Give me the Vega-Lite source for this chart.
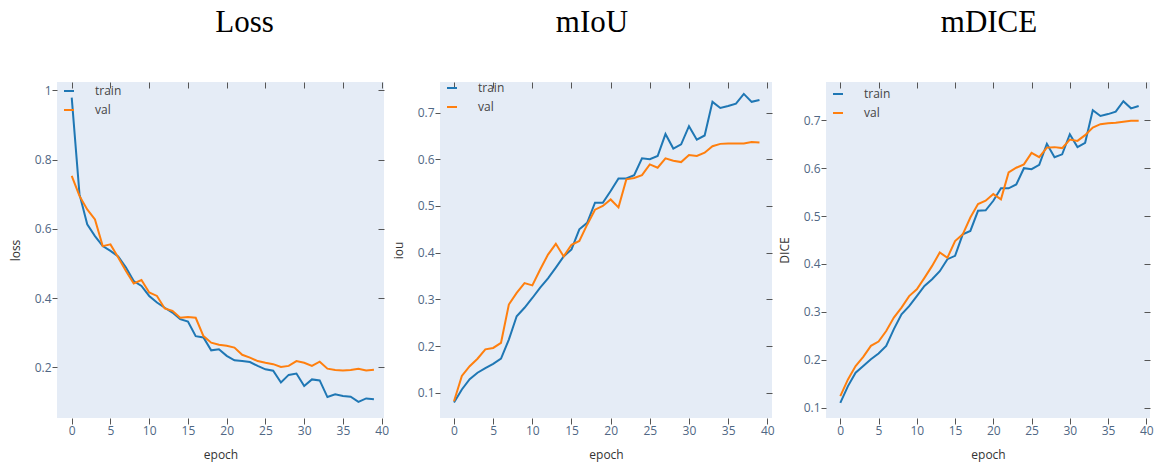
{
 "$schema": "https://vega.github.io/schema/vega-lite/v6.json",
 "padding": {"left": 9, "top": 6, "right": 2, "bottom": 5},
 "spacing": 3,
 "background": "white",
 "datasets": {
  "loss": [
   {"epoch":0,"series":"train","value":0.979},{"epoch":1,"series":"train","value":0.700},{"epoch":2,"series":"train","value":0.613},{"epoch":3,"series":"train","value":0.579},{"epoch":4,"series":"train","value":0.550},{"epoch":5,"series":"train","value":0.536},{"epoch":6,"series":"train","value":0.520},{"epoch":7,"series":"train","value":0.488},{"epoch":8,"series":"train","value":0.449},{"epoch":9,"series":"train","value":0.435},
   {"epoch":10,"series":"train","value":0.406},{"epoch":11,"series":"train","value":0.387},{"epoch":12,"series":"train","value":0.372},{"epoch":13,"series":"train","value":0.358},{"epoch":14,"series":"train","value":0.339},{"epoch":15,"series":"train","value":0.332},{"epoch":16,"series":"train","value":0.290},{"epoch":17,"series":"train","value":0.286},{"epoch":18,"series":"train","value":0.249},{"epoch":19,"series":"train","value":0.252},
   {"epoch":20,"series":"train","value":0.233},{"epoch":21,"series":"train","value":0.220},{"epoch":22,"series":"train","value":0.218},{"epoch":23,"series":"train","value":0.215},{"epoch":24,"series":"train","value":0.204},{"epoch":25,"series":"train","value":0.194},{"epoch":26,"series":"train","value":0.190},{"epoch":27,"series":"train","value":0.156},{"epoch":28,"series":"train","value":0.178},{"epoch":29,"series":"train","value":0.182},
   {"epoch":30,"series":"train","value":0.146},{"epoch":31,"series":"train","value":0.165},{"epoch":32,"series":"train","value":0.162},{"epoch":33,"series":"train","value":0.114},{"epoch":34,"series":"train","value":0.122},{"epoch":35,"series":"train","value":0.117},{"epoch":36,"series":"train","value":0.115},{"epoch":37,"series":"train","value":0.100},{"epoch":38,"series":"train","value":0.110},{"epoch":39,"series":"train","value":0.108},
   {"epoch":0,"series":"val","value":0.753},{"epoch":1,"series":"val","value":0.695},{"epoch":2,"series":"val","value":0.656},{"epoch":3,"series":"val","value":0.627},{"epoch":4,"series":"val","value":0.550},{"epoch":5,"series":"val","value":0.555},{"epoch":6,"series":"val","value":0.517},{"epoch":7,"series":"val","value":0.478},{"epoch":8,"series":"val","value":0.442},{"epoch":9,"series":"val","value":0.452},
   {"epoch":10,"series":"val","value":0.416},{"epoch":11,"series":"val","value":0.406},{"epoch":12,"series":"val","value":0.370},{"epoch":13,"series":"val","value":0.363},{"epoch":14,"series":"val","value":0.343},{"epoch":15,"series":"val","value":0.345},{"epoch":16,"series":"val","value":0.343},{"epoch":17,"series":"val","value":0.290},{"epoch":18,"series":"val","value":0.271},{"epoch":19,"series":"val","value":0.265},
   {"epoch":20,"series":"val","value":0.262},{"epoch":21,"series":"val","value":0.257},{"epoch":22,"series":"val","value":0.236},{"epoch":23,"series":"val","value":0.228},{"epoch":24,"series":"val","value":0.218},{"epoch":25,"series":"val","value":0.213},{"epoch":26,"series":"val","value":0.209},{"epoch":27,"series":"val","value":0.201},{"epoch":28,"series":"val","value":0.204},{"epoch":29,"series":"val","value":0.218},
   {"epoch":30,"series":"val","value":0.213},{"epoch":31,"series":"val","value":0.204},{"epoch":32,"series":"val","value":0.216},{"epoch":33,"series":"val","value":0.196},{"epoch":34,"series":"val","value":0.192},{"epoch":35,"series":"val","value":0.191},{"epoch":36,"series":"val","value":0.192},{"epoch":37,"series":"val","value":0.196},{"epoch":38,"series":"val","value":0.191},{"epoch":39,"series":"val","value":0.193}
  ],
  "iou": [
   {"epoch":0,"series":"train","value":0.079},{"epoch":1,"series":"train","value":0.107},{"epoch":2,"series":"train","value":0.129},{"epoch":3,"series":"train","value":0.143},{"epoch":4,"series":"train","value":0.153},{"epoch":5,"series":"train","value":0.162},{"epoch":6,"series":"train","value":0.173},{"epoch":7,"series":"train","value":0.214},{"epoch":8,"series":"train","value":0.264},{"epoch":9,"series":"train","value":0.282},
   {"epoch":10,"series":"train","value":0.303},{"epoch":11,"series":"train","value":0.325},{"epoch":12,"series":"train","value":0.345},{"epoch":13,"series":"train","value":0.368},{"epoch":14,"series":"train","value":0.392},{"epoch":15,"series":"train","value":0.407},{"epoch":16,"series":"train","value":0.450},{"epoch":17,"series":"train","value":0.464},{"epoch":18,"series":"train","value":0.507},{"epoch":19,"series":"train","value":0.507},
   {"epoch":20,"series":"train","value":0.532},{"epoch":21,"series":"train","value":0.559},{"epoch":22,"series":"train","value":0.559},{"epoch":23,"series":"train","value":0.566},{"epoch":24,"series":"train","value":0.602},{"epoch":25,"series":"train","value":0.600},{"epoch":26,"series":"train","value":0.607},{"epoch":27,"series":"train","value":0.654},{"epoch":28,"series":"train","value":0.623},{"epoch":29,"series":"train","value":0.632},
   {"epoch":30,"series":"train","value":0.671},{"epoch":31,"series":"train","value":0.642},{"epoch":32,"series":"train","value":0.651},{"epoch":33,"series":"train","value":0.723},{"epoch":34,"series":"train","value":0.710},{"epoch":35,"series":"train","value":0.714},{"epoch":36,"series":"train","value":0.719},{"epoch":37,"series":"train","value":0.740},{"epoch":38,"series":"train","value":0.723},{"epoch":39,"series":"train","value":0.727},
   {"epoch":0,"series":"val","value":0.082},{"epoch":1,"series":"val","value":0.136},{"epoch":2,"series":"val","value":0.157},{"epoch":3,"series":"val","value":0.173},{"epoch":4,"series":"val","value":0.193},{"epoch":5,"series":"val","value":0.196},{"epoch":6,"series":"val","value":0.207},{"epoch":7,"series":"val","value":0.289},{"epoch":8,"series":"val","value":0.314},{"epoch":9,"series":"val","value":0.335},
   {"epoch":10,"series":"val","value":0.330},{"epoch":11,"series":"val","value":0.364},{"epoch":12,"series":"val","value":0.396},{"epoch":13,"series":"val","value":0.419},{"epoch":14,"series":"val","value":0.392},{"epoch":15,"series":"val","value":0.417},{"epoch":16,"series":"val","value":0.425},{"epoch":17,"series":"val","value":0.460},{"epoch":18,"series":"val","value":0.492},{"epoch":19,"series":"val","value":0.500},
   {"epoch":20,"series":"val","value":0.514},{"epoch":21,"series":"val","value":0.497},{"epoch":22,"series":"val","value":0.557},{"epoch":23,"series":"val","value":0.560},{"epoch":24,"series":"val","value":0.566},{"epoch":25,"series":"val","value":0.589},{"epoch":26,"series":"val","value":0.582},{"epoch":27,"series":"val","value":0.602},{"epoch":28,"series":"val","value":0.597},{"epoch":29,"series":"val","value":0.594},
   {"epoch":30,"series":"val","value":0.609},{"epoch":31,"series":"val","value":0.607},{"epoch":32,"series":"val","value":0.614},{"epoch":33,"series":"val","value":0.628},{"epoch":34,"series":"val","value":0.633},{"epoch":35,"series":"val","value":0.634},{"epoch":36,"series":"val","value":0.634},{"epoch":37,"series":"val","value":0.634},{"epoch":38,"series":"val","value":0.637},{"epoch":39,"series":"val","value":0.636}
  ],
  "dice": [
   {"epoch":0,"series":"train","value":0.110},{"epoch":1,"series":"train","value":0.145},{"epoch":2,"series":"train","value":0.173},{"epoch":3,"series":"train","value":0.187},{"epoch":4,"series":"train","value":0.201},{"epoch":5,"series":"train","value":0.213},{"epoch":6,"series":"train","value":0.229},{"epoch":7,"series":"train","value":0.264},{"epoch":8,"series":"train","value":0.295},{"epoch":9,"series":"train","value":0.312},
   {"epoch":10,"series":"train","value":0.333},{"epoch":11,"series":"train","value":0.354},{"epoch":12,"series":"train","value":0.368},{"epoch":13,"series":"train","value":0.385},{"epoch":14,"series":"train","value":0.410},{"epoch":15,"series":"train","value":0.417},{"epoch":16,"series":"train","value":0.462},{"epoch":17,"series":"train","value":0.469},{"epoch":18,"series":"train","value":0.511},{"epoch":19,"series":"train","value":0.512},
   {"epoch":20,"series":"train","value":0.532},{"epoch":21,"series":"train","value":0.558},{"epoch":22,"series":"train","value":0.558},{"epoch":23,"series":"train","value":0.566},{"epoch":24,"series":"train","value":0.600},{"epoch":25,"series":"train","value":0.598},{"epoch":26,"series":"train","value":0.607},{"epoch":27,"series":"train","value":0.651},{"epoch":28,"series":"train","value":0.623},{"epoch":29,"series":"train","value":0.629},
   {"epoch":30,"series":"train","value":0.671},{"epoch":31,"series":"train","value":0.644},{"epoch":32,"series":"train","value":0.653},{"epoch":33,"series":"train","value":0.721},{"epoch":34,"series":"train","value":0.709},{"epoch":35,"series":"train","value":0.713},{"epoch":36,"series":"train","value":0.718},{"epoch":37,"series":"train","value":0.740},{"epoch":38,"series":"train","value":0.725},{"epoch":39,"series":"train","value":0.730},
   {"epoch":0,"series":"val","value":0.124},{"epoch":1,"series":"val","value":0.159},{"epoch":2,"series":"val","value":0.187},{"epoch":3,"series":"val","value":0.206},{"epoch":4,"series":"val","value":0.229},{"epoch":5,"series":"val","value":0.238},{"epoch":6,"series":"val","value":0.260},{"epoch":7,"series":"val","value":0.288},{"epoch":8,"series":"val","value":0.309},{"epoch":9,"series":"val","value":0.333},
   {"epoch":10,"series":"val","value":0.347},{"epoch":11,"series":"val","value":0.371},{"epoch":12,"series":"val","value":0.396},{"epoch":13,"series":"val","value":0.424},{"epoch":14,"series":"val","value":0.413},{"epoch":15,"series":"val","value":0.448},{"epoch":16,"series":"val","value":0.462},{"epoch":17,"series":"val","value":0.497},{"epoch":18,"series":"val","value":0.525},{"epoch":19,"series":"val","value":0.532},
   {"epoch":20,"series":"val","value":0.546},{"epoch":21,"series":"val","value":0.535},{"epoch":22,"series":"val","value":0.591},{"epoch":23,"series":"val","value":0.601},{"epoch":24,"series":"val","value":0.608},{"epoch":25,"series":"val","value":0.632},{"epoch":26,"series":"val","value":0.623},{"epoch":27,"series":"val","value":0.643},{"epoch":28,"series":"val","value":0.644},{"epoch":29,"series":"val","value":0.642},
   {"epoch":30,"series":"val","value":0.660},{"epoch":31,"series":"val","value":0.657},{"epoch":32,"series":"val","value":0.669},{"epoch":33,"series":"val","value":0.685},{"epoch":34,"series":"val","value":0.692},{"epoch":35,"series":"val","value":0.694},{"epoch":36,"series":"val","value":0.695},{"epoch":37,"series":"val","value":0.697},{"epoch":38,"series":"val","value":0.699},{"epoch":39,"series":"val","value":0.699}
  ]
 },
 "hconcat": [
  {
   "width": 327, "height": 336,
   "title": {"text": "Loss", "font": "Liberation Serif", "fontSize": 31, "fontWeight": "normal", "color": "black", "anchor": "middle", "frame": "group", "dx": 24, "baseline": "alphabetic", "offset": 19},
   "data": {"name": "loss"},
   "layer": [
    {"mark": {"type": "line", "opacity": 0},
     "encoding": {
      "x": {"field": "epoch", "type": "quantitative", "axis": {"orient": "top", "values": [0,5,10,15,20,25,30,35,40], "labels": false, "tickSize": -6, "title": null}},
      "y": {"field": "value", "type": "quantitative", "axis": {"orient": "right", "values": [0.2,0.4,0.6,0.8,1], "labels": false, "tickSize": -6, "title": null}},
      "detail": {"field": "series"}
     }},
    {"mark": {"type": "line", "strokeWidth": 2, "clip": true},
     "encoding": {
      "x": {"field": "epoch", "type": "quantitative", "scale": {"domain": [-1.9, 40.3], "nice": false, "zero": false}, "axis": {"orient": "bottom", "values": [0,5,10,15,20,25,30,35,40], "title": "epoch", "tickSize": 6, "labelPadding": 1, "titlePadding": 13}},
      "y": {"field": "value", "type": "quantitative", "scale": {"domain": [0.0535, 1.024], "nice": false, "zero": false}, "axis": {"orient": "left", "values": [0.2,0.4,0.6,0.8,1], "format": "~g", "title": "loss", "tickSize": 5, "labelPadding": 1, "titlePadding": 12}},
      "color": {"field": "series", "type": "nominal", "scale": {"domain": ["train", "val"], "range": ["#1f77b4", "#ff7f0e"]},
       "legend": {"orient": "none", "legendX": 6, "legendY": 3, "title": null, "symbolType": "stroke", "symbolSize": 100, "symbolStrokeWidth": 2, "labelOffset": 20, "rowPadding": 7, "labelFont": "Open Sans", "labelFontSize": 12, "labelColor": "#444"}}
     }}
   ],
   "resolve": {"axis": {"x": "independent", "y": "independent"}}
  },
  {
   "width": 332, "height": 336,
   "title": {"text": "mIoU", "font": "Liberation Serif", "fontSize": 31, "fontWeight": "normal", "color": "black", "anchor": "middle", "frame": "group", "dx": -14, "baseline": "alphabetic", "offset": 19},
   "data": {"name": "iou"},
   "layer": [
    {"mark": {"type": "line", "opacity": 0},
     "encoding": {
      "x": {"field": "epoch", "type": "quantitative", "axis": {"orient": "top", "values": [0,5,10,15,20,25,30,35,40], "labels": false, "tickSize": -6, "title": null}},
      "y": {"field": "value", "type": "quantitative", "axis": {"orient": "right", "values": [0.1,0.2,0.3,0.4,0.5,0.6,0.7], "labels": false, "tickSize": -6, "title": null}},
      "detail": {"field": "series"}
     }},
    {"mark": {"type": "line", "strokeWidth": 2, "clip": true},
     "encoding": {
      "x": {"field": "epoch", "type": "quantitative", "scale": {"domain": [-1.79, 40.6], "nice": false, "zero": false}, "axis": {"orient": "bottom", "values": [0,5,10,15,20,25,30,35,40], "title": "epoch", "tickSize": 6, "labelPadding": 1, "titlePadding": 13}},
      "y": {"field": "value", "type": "quantitative", "scale": {"domain": [0.046, 0.7655], "nice": false, "zero": false}, "axis": {"orient": "left", "values": [0.1,0.2,0.3,0.4,0.5,0.6,0.7], "title": "iou", "tickSize": 5, "labelPadding": 1, "titlePadding": 12}},
      "color": {"field": "series", "type": "nominal", "scale": {"domain": ["train", "val"], "range": ["#1f77b4", "#ff7f0e"]},
       "legend": {"orient": "none", "legendX": 6, "legendY": 0, "title": null, "symbolType": "stroke", "symbolSize": 100, "symbolStrokeWidth": 2, "labelOffset": 20, "rowPadding": 7, "labelFont": "Open Sans", "labelFontSize": 12, "labelColor": "#444"}}
     }}
   ],
   "resolve": {"axis": {"x": "independent", "y": "independent"}}
  },
  {
   "width": 324, "height": 336,
   "title": {"text": "mDICE", "font": "Liberation Serif", "fontSize": 31, "fontWeight": "normal", "color": "black", "anchor": "middle", "frame": "group", "dx": 1, "baseline": "alphabetic", "offset": 19},
   "data": {"name": "dice"},
   "layer": [
    {"mark": {"type": "line", "opacity": 0},
     "encoding": {
      "x": {"field": "epoch", "type": "quantitative", "axis": {"orient": "top", "values": [0,5,10,15,20,25,30,35,40], "labels": false, "tickSize": -6, "title": null}},
      "y": {"field": "value", "type": "quantitative", "axis": {"orient": "right", "values": [0.1,0.2,0.3,0.4,0.5,0.6,0.7], "labels": false, "tickSize": -6, "title": null}},
      "detail": {"field": "series"}
     }},
    {"mark": {"type": "line", "strokeWidth": 2, "clip": true},
     "encoding": {
      "x": {"field": "epoch", "type": "quantitative", "scale": {"domain": [-1.87, 40.48], "nice": false, "zero": false}, "axis": {"orient": "bottom", "values": [0,5,10,15,20,25,30,35,40], "title": "epoch", "tickSize": 6, "labelPadding": 1, "titlePadding": 13}},
      "y": {"field": "value", "type": "quantitative", "scale": {"domain": [0.0784, 0.78], "nice": false, "zero": false}, "axis": {"orient": "left", "values": [0.1,0.2,0.3,0.4,0.5,0.6,0.7], "title": "DICE", "tickSize": 5, "labelPadding": 1, "titlePadding": 12}},
      "color": {"field": "series", "type": "nominal", "scale": {"domain": ["train", "val"], "range": ["#1f77b4", "#ff7f0e"]},
       "legend": {"orient": "none", "legendX": 6, "legendY": 6, "title": null, "symbolType": "stroke", "symbolSize": 100, "symbolStrokeWidth": 2, "labelOffset": 20, "rowPadding": 7, "labelFont": "Open Sans", "labelFontSize": 12, "labelColor": "#444"}}
     }}
   ],
   "resolve": {"axis": {"x": "independent", "y": "independent"}}
  }
 ],
 "resolve": {"scale": {"color": "independent"}, "legend": {"color": "independent"}},
 "config": {
  "view": {"fill": "#e5ecf6", "stroke": null},
  "axis": {"grid": false, "domain": false, "tickColor": "#555", "tickWidth": 1, "labelFont": "Open Sans", "labelFontSize": 12, "labelColor": "#506784", "titleFont": "Open Sans", "titleFontSize": 12, "titleFontWeight": "normal", "titleColor": "#333"},
  "legend": {"padding": 0}
 }
}
